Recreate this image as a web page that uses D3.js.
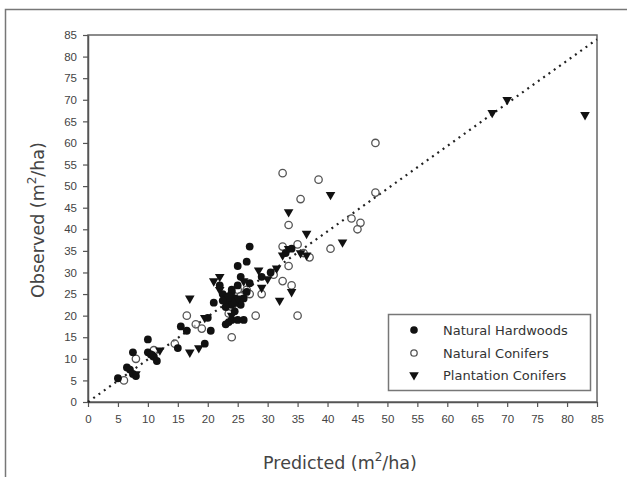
<!DOCTYPE html>
<html><head><meta charset="utf-8">
<script src="https://cdn.jsdelivr.net/npm/d3@7"></script>
<style>body{margin:0;background:#fff}svg{display:block}</style>
</head><body>
<svg id="c" width="627" height="477"></svg>
<script>
// ---- data ----
const xTicks = d3.range(0, 90, 5);
const yTicks = d3.range(0, 90, 5);
const seriesNames = ["Natural Hardwoods", "Natural Conifers", "Plantation Conifers"];
const hardwoods = [
  [5,5.5],[6.5,8],[7,7.5],[7.5,6.5],[8,6],[7.5,11.5],[10,14.5],[10,11.5],[10.5,11],[11,10.5],[11.5,9.5],
  [15,12.5],[15.5,17.5],[16.5,16.5],[19.5,13.5],[20.5,16.5],[21,23],[22,27],[22.5,25],[23,18],[23.5,18.5],
  [24,19],[25,19],[26,19],[23,24],[23.5,23],[24,22.5],[24.5,24],[24,25.5],[25,27],[25.5,29],[24,26],
  [23,22],[25,23],[26,24],[26.5,25.5],[24.5,21],[25.5,22.5],[25,31.5],[26.5,32.5],[27,36],[27,27.5],
  [23.5,24.5],[24.5,23],[22.5,23.5],[29,29],[30.5,30],[33,34.5],[34,35.5],[20,19.5]
];
const conifers = [
  [48,60],[32.5,53],[38.5,51.5],[48,48.5],[35.5,47],[44,42.5],[45.5,41.5],[45,40],[33.5,41],[40.5,35.5],
  [35,36.5],[37,33.5],[33.5,31.5],[32.5,36],[32.5,28],[34,27],[35,20],[28,20],[29,25],[24,15],[16.5,20],
  [18,18],[14.5,13.5],[8,10],[6,5],[25,26],[26.5,26],[24,22],[23.5,20.5],[31,29.5],[27,25],[25.5,24.5],
  [19,17],[11,12],[36,34.5]
];
const plantation = [
  [83,66.5],[70,70],[67.5,67],[40.5,48],[33.5,44],[36.5,39],[42.5,37],[33.5,35.5],[35.5,34.5],[36.5,34],
  [32,23.5],[34,25.5],[17,24],[17,11.5],[19.5,19.5],[21,28],[22,29],[28.5,30.5],[29,26.5],[31.5,31],
  [32.5,34],[10.5,11],[8,6.5],[12,12],[26,28],[25,24],[22,26],[30,28.5],[18.5,12.5],[24,20]
];
const lineEnds = [[0,0],[85,84]];

// ---- layout ----
const svg = d3.select("#c");
const L = 88, R = 597, T = 35, B = 402;
const x = d3.scaleLinear().domain([0,85]).range([L,R]);
const y = d3.scaleLinear().domain([0,85]).range([B,T]);
const font = "'Liberation Sans', Arial, sans-serif";
const wfont = "'DejaVu Sans', sans-serif";

// outer frame (only top & left visible)
svg.append("rect").attr("x",5.5).attr("y",9.5).attr("width",700).attr("height",600)
  .attr("fill","none").attr("stroke","#777").attr("stroke-width",1.5);

// plot frame
svg.append("rect").attr("x",L).attr("y",T).attr("width",R-L).attr("height",B-T)
  .attr("fill","none").attr("stroke","#666").attr("stroke-width",1.5);

// axes
const xa = svg.append("g").attr("transform",`translate(0,${B})`)
  .call(d3.axisBottom(x).tickValues(xTicks).tickSize(5).tickPadding(8).tickSizeOuter(0));
const ya = svg.append("g").attr("transform",`translate(${L},0)`)
  .call(d3.axisLeft(y).tickValues(yTicks).tickSize(5).tickPadding(6).tickSizeOuter(0));
[xa,ya].forEach(a=>{
  a.select(".domain").attr("stroke","#555").attr("stroke-width",1.5);
  a.selectAll(".tick line").attr("stroke","#555").attr("stroke-width",1.2);
  a.selectAll(".tick text").attr("fill","#444").style("font-family",font).style("font-size","11.5px");
});

// 1:1 dotted line
svg.append("line")
  .attr("x1",x(lineEnds[0][0])).attr("y1",y(lineEnds[0][1]))
  .attr("x2",x(lineEnds[1][0])).attr("y2",y(lineEnds[1][1]))
  .attr("stroke","#222").attr("stroke-width",2.2).attr("stroke-dasharray","2,4.5");

const tri = d3.symbol().type(d3.symbolTriangle).size(40);
function drawHard(g, data){
  g.selectAll(null).data(data).join("circle")
    .attr("cx",d=>x(d[0])).attr("cy",d=>y(d[1])).attr("r",3.9).attr("fill","#111");
}
function drawCon(g, data){
  g.selectAll(null).data(data).join("circle")
    .attr("cx",d=>x(d[0])).attr("cy",d=>y(d[1])).attr("r",3.7)
    .attr("fill","#fff").attr("fill-opacity",0.6).attr("stroke","#555").attr("stroke-width",1.3);
}
function drawPlant(g, data){
  g.selectAll(null).data(data).join("path")
    .attr("d",tri).attr("transform",d=>`translate(${x(d[0])},${y(d[1])}) rotate(180)`).attr("fill","#111");
}
const gp = svg.append("g");
drawCon(gp, conifers);
drawHard(gp, hardwoods);
drawPlant(gp, plantation);

// legend
const lg = svg.append("g");
lg.append("rect").attr("x",388.5).attr("y",314.5).attr("width",202).attr("height",76)
  .attr("fill","#fff").attr("stroke","#777").attr("stroke-width",1.5);
const rows = [330, 353, 375];
lg.append("circle").attr("cx",414).attr("cy",rows[0]).attr("r",3.8).attr("fill","#111");
lg.append("circle").attr("cx",414).attr("cy",rows[1]).attr("r",3.2).attr("fill","#fff").attr("stroke","#555").attr("stroke-width",1.3);
lg.append("path").attr("d",tri).attr("transform",`translate(414,${rows[2]}) rotate(180)`).attr("fill","#111");
seriesNames.forEach((n,i)=>{
  lg.append("text").attr("x",443).attr("y",rows[i]+5).text(n)
    .attr("fill","#333").style("font-family",wfont).style("font-size","13px");
});

// axis titles
const xt = svg.append("text").attr("x",340).attr("y",469).attr("text-anchor","middle")
  .attr("fill","#444").style("font-family",wfont).style("font-size","17.5px");
xt.append("tspan").text("Predicted (m");
xt.append("tspan").text("2").attr("dy",-8).style("font-size","12px");
xt.append("tspan").text("/ha)").attr("dy",8);

const yt = svg.append("text").attr("transform","translate(44,220) rotate(-90)").attr("text-anchor","middle")
  .attr("fill","#444").style("font-family",wfont).style("font-size","17.5px");
yt.append("tspan").text("Observed (m");
yt.append("tspan").text("2").attr("dy",-8).style("font-size","12px");
yt.append("tspan").text("/ha)").attr("dy",8);
</script>
</body></html>
